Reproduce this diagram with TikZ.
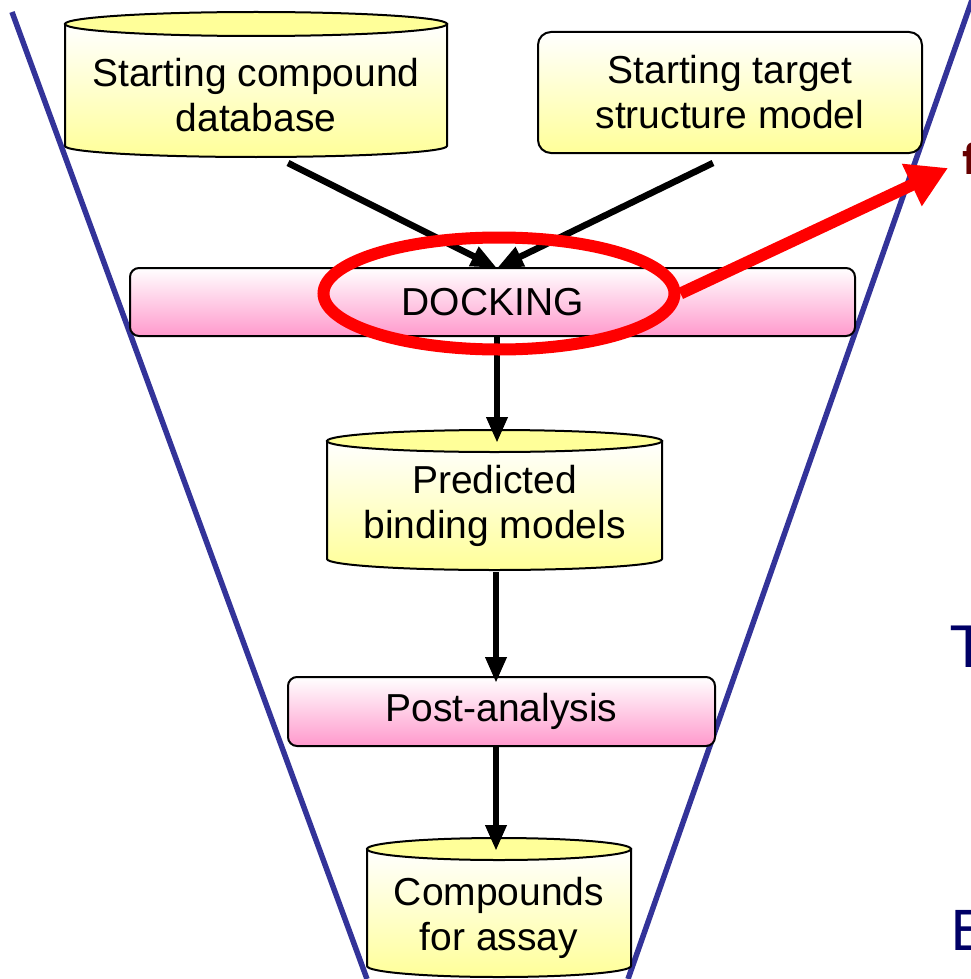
\documentclass[tikz,border=0pt]{standalone}
\usepackage{fontspec}
\setmainfont{Liberation Sans}
\newfontfamily\slidefont{DejaVu Sans}
\usetikzlibrary{arrows.meta,shapes.geometric}
\definecolor{ylw}{HTML}{FFFF99}
\definecolor{pnk}{HTML}{FF99CC}
\definecolor{funnelblue}{HTML}{333399}
\definecolor{navy}{HTML}{000066}
\definecolor{darkred}{HTML}{660000}
\tikzset{
  lbl/.style={align=center, font=\fontsize{39}{45}\selectfont, inner sep=0pt},
  flow/.style={line width=6.5pt, -{Triangle[length=26pt,width=20pt]}},
  pinkbox/.style={draw, line width=2pt, rounded corners=9pt, top color=white, bottom color=pnk,
     align=center, font=\fontsize{39}{45}\selectfont, inner sep=0pt},
  yelbox/.style={draw, line width=2pt, rounded corners=13pt, top color=white, bottom color=ylw,
     align=center, font=\fontsize{39}{45}\selectfont, inner sep=0pt},
  cylbody/.style={draw, line width=2pt, top color=white, bottom color=ylw},
  cyltop/.style={draw, line width=2pt, fill=ylw},
  funnelline/.style={draw=funnelblue, line width=5.5pt},
  highlight/.style={draw=red, line width=12pt, ellipse, inner sep=0pt},
  pointer/.style={draw=red, line width=12pt, -{Triangle[length=40pt,width=44pt]}},
  cut/.style={inner sep=0pt, anchor=base west}
}
\begin{document}
\begin{tikzpicture}[x=1pt,y=-1pt]
\useasboundingbox (0,0) rectangle (970,979);

% funnel
\coordinate (fl1) at (12,12);
\coordinate (fl2) at (367,979);
\coordinate (fr1) at (972,0);
\coordinate (fr2) at (628,979);
\draw[funnelline] (fl1) -- (fl2);
\draw[funnelline] (fr1) -- (fr2);

% starting compound database (cylinder)
\path[cylbody] (65,24) -- (65,146) arc[start angle=180,end angle=0,x radius=191,y radius=11] -- (447,24) -- cycle;
\path[cyltop] (256,24) ellipse[x radius=191,y radius=12];
\node[lbl] (db) at (256,95) {Starting compound\\database};

% starting target structure model
\node[yelbox, minimum width=384pt, minimum height=121pt] (tgt) at (730,92.5) {Starting target\\structure model};

% docking
\node[pinkbox, minimum width=725pt, minimum height=68pt] (dock) at (492.5,302) {DOCKING};

% predicted binding models (cylinder)
\path[cylbody] (327,441) -- (327,559) arc[start angle=180,end angle=0,x radius=167.5,y radius=11] -- (662,441) -- cycle;
\path[cyltop] (494.5,441) ellipse[x radius=167.5,y radius=11];
\node[lbl] (pred) at (494.5,506) {Predicted\\binding models};

% post-analysis
\node[pinkbox, minimum width=427pt, minimum height=69pt] (post) at (501.5,711.5) {Post-analysis};

% compounds for assay (cylinder)
\path[cylbody] (367,849) -- (367,966) arc[start angle=180,end angle=0,x radius=132,y radius=11] -- (631,849) -- cycle;
\path[cyltop] (499,849) ellipse[x radius=132,y radius=11];
\node[lbl] (assay) at (499,918) {Compounds\\for assay};

% connectors
\coordinate (dbout) at (288,163);
\coordinate (tgtout) at (713,163);
\coordinate (dockin) at (497,268);
\coordinate (dockout) at (497,336);
\coordinate (predin) at (497,443);
\coordinate (predout) at (496,572);
\coordinate (postin) at (496,683);
\coordinate (postout) at (496,746);
\coordinate (assayin) at (496,851);
\draw[flow] (dbout) -- (dockin);
\draw[flow] (tgtout) -- (dockin);
\draw[flow] (dockout) -- (predin);
\draw[flow] (predout) -- (postin);
\draw[flow] (postout) -- (assayin);

% highlight
\node[highlight, minimum width=351pt, minimum height=112pt] (hl) at (499,293.5) {};
\coordinate (ptr) at (948,168);
\draw[pointer] (hl.east) -- (ptr);

% cut-off letters at right edge
\node[cut, text=darkred, font=\slidefont\bfseries\fontsize{42}{44}\selectfont] (cf) at (962,174) {f};
\node[cut, text=navy, font=\slidefont\fontsize{57}{60}\selectfont] (ct) at (951,667) {T};
\node[cut, text=navy, font=\slidefont\fontsize{55}{60}\selectfont] (ce) at (950,950) {E};
\end{tikzpicture}
\end{document}
